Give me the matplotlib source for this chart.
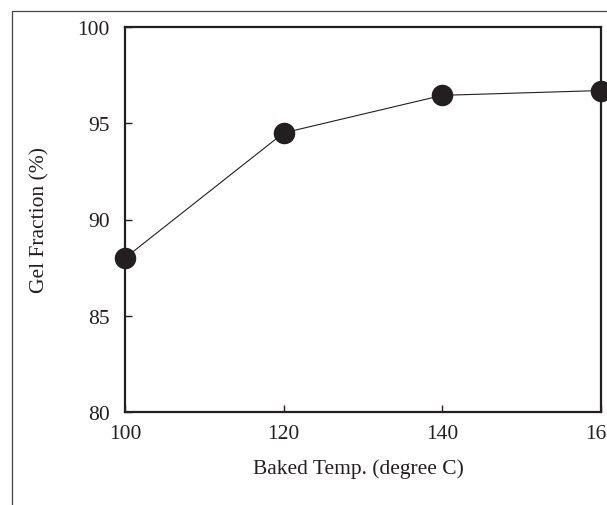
import matplotlib
matplotlib.use("Agg")
from matplotlib import pyplot as plt
from matplotlib.patches import Rectangle

temps = [100, 120, 140, 160]
gel_fraction = [88.0, 94.5, 96.45, 96.7]
x_ticks = [100, 120, 140, 160]
y_ticks = [80, 85, 90, 95, 100]

plt.rcParams.update({
    "font.family": ["Liberation Serif", "DejaVu Serif"],
    "font.size": 15.5,
})

dark = "#231f20"
fig = plt.figure(figsize=(6.07, 5.06), dpi=100)

# thin outer frame, cut off at right and bottom like the source image
fig.patches.append(Rectangle((12 / 607, -0.1), 1.2, 1 - 12 / 506 + 0.1,
                             transform=fig.transFigure, fill=False,
                             edgecolor="#444444", linewidth=0.9))

ax = fig.add_axes([125 / 607, 1 - 413 / 506, 476 / 607, 385 / 506])
ax.plot(temps, gel_fraction, color=dark, linewidth=0.8, marker="o",
        markersize=14.5, markerfacecolor=dark, markeredgecolor=dark,
        clip_on=False, zorder=5)

ax.set_xlim(100, 160)
ax.set_ylim(80, 100)
ax.set_xticks(x_ticks)
ax.set_yticks(y_ticks)
ax.tick_params(direction="in", length=5, width=1, color=dark, labelcolor=dark)
ax.tick_params(axis="x", pad=9)
ax.tick_params(axis="y", pad=11)
for s in ax.spines.values():
    s.set_linewidth(1.6)
    s.set_color(dark)

ax.set_xlabel("Baked Temp. (degree C)", color=dark)
ax.set_ylabel("Gel Fraction (%)", color=dark)
ax.xaxis.set_label_coords(0.49, -0.12)
ax.yaxis.set_label_coords(-0.158, 0.5)

fig.savefig("out.png", dpi=100)
